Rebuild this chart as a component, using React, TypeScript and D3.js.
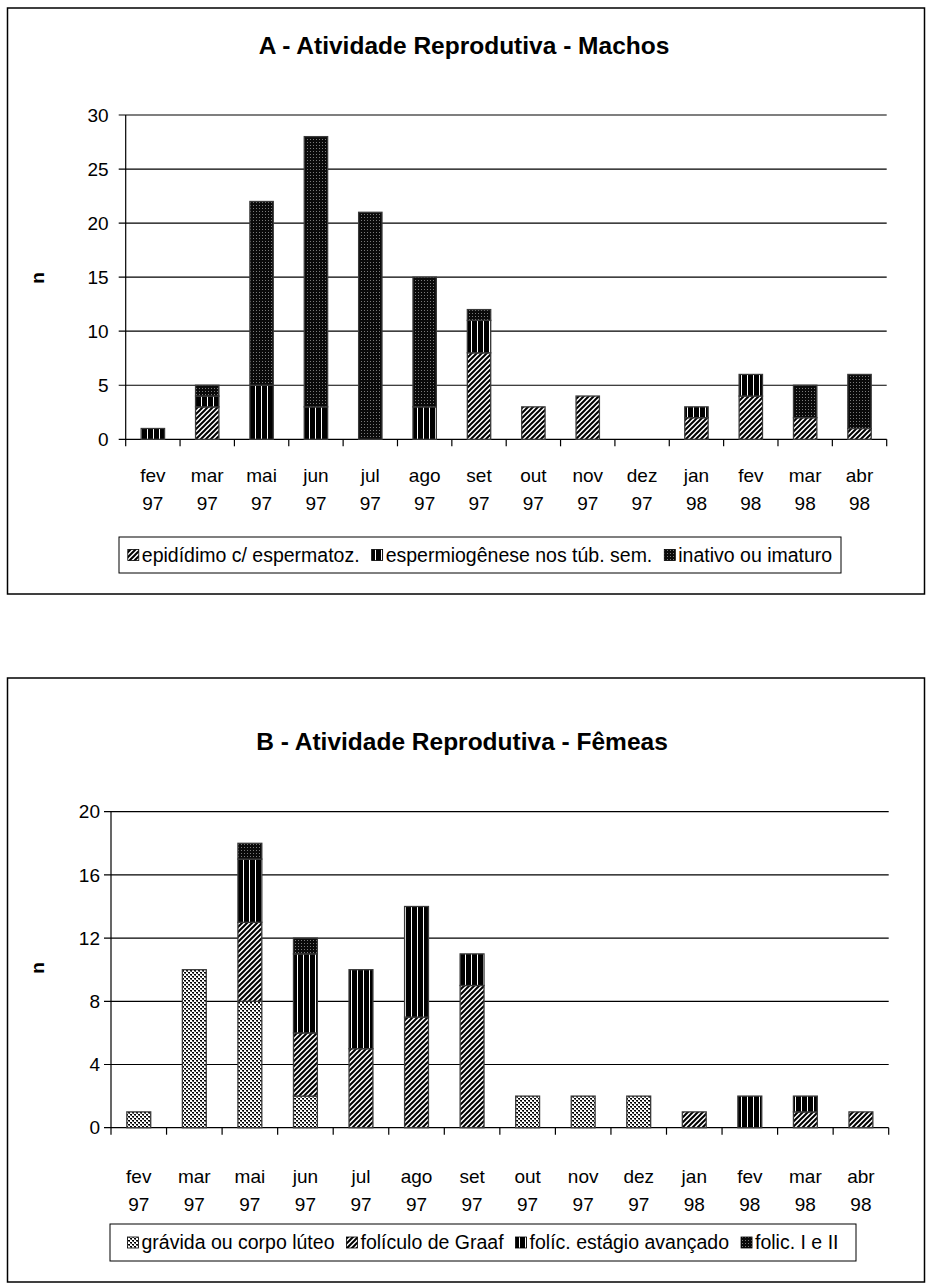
import React from "react";
import * as d3 from "d3";

const months = ["fev", "mar", "mai", "jun", "jul", "ago", "set", "out", "nov", "dez", "jan", "fev", "mar", "abr"];
const years = ["97", "97", "97", "97", "97", "97", "97", "97", "97", "97", "98", "98", "98", "98"];

// Chart A - Machos
const maleSeriesNames = ["epidídimo c/ espermatoz.", "espermiogênese nos túb. sem.", "inativo ou imaturo"];
const maleEpididimo = [0, 3, 0, 0, 0, 0, 8, 3, 4, 0, 2, 4, 2, 1];
const maleEspermiogenese = [1, 1, 5, 3, 0, 3, 3, 0, 0, 0, 1, 2, 0, 0];
const maleInativo = [0, 1, 17, 25, 21, 12, 1, 0, 0, 0, 0, 0, 3, 5];
const maleTicks = [0, 5, 10, 15, 20, 25, 30];

// Chart B - Fêmeas
const femaleSeriesNames = ["grávida ou corpo lúteo", "folículo de Graaf", "folíc. estágio avançado", "folic. I e II"];
const femaleGravida = [1, 10, 8, 2, 0, 0, 0, 2, 2, 2, 0, 0, 0, 0];
const femaleGraaf = [0, 0, 5, 4, 5, 7, 9, 0, 0, 0, 1, 0, 1, 1];
const femaleAvancado = [0, 0, 4, 5, 5, 7, 2, 0, 0, 0, 0, 2, 1, 0];
const femaleFolicI = [0, 0, 1, 1, 0, 0, 0, 0, 0, 0, 0, 0, 0, 0];
const femaleTicks = [0, 4, 8, 12, 16, 20];

const FONT = "'Liberation Sans Narrow', 'Arial Narrow', 'Liberation Sans', Arial, sans-serif";

function measure(text: string, size: number, bold = false) {
  if (typeof document === "undefined") return text.length * size * 0.45;
  const c = document.createElement("canvas").getContext("2d");
  if (!c) return text.length * size * 0.45;
  c.font = `${bold ? "bold " : ""}${size}px ${FONT}`;
  return c.measureText(text).width;
}

function Patterns() {
  return (
    <defs>
      <pattern id="hatch" patternUnits="userSpaceOnUse" width="5" height="5">
        <rect width="5" height="5" fill="#fff" />
        <path d="M-1,1 l2,-2 M0,5 l5,-5 M4,6 l2,-2" stroke="#000" strokeWidth="2" />
      </pattern>
      <pattern id="vlines" patternUnits="userSpaceOnUse" width="6" height="4">
        <rect width="6" height="4" fill="#000" />
        <rect x="3" width="1" height="4" fill="#fff" />
      </pattern>
      <pattern id="darkdots" patternUnits="userSpaceOnUse" width="3" height="3">
        <rect width="3" height="3" fill="#0a0a0a" />
        <rect x="1" y="1" width="1" height="1" fill="#7a7a7a" />
      </pattern>
      <pattern id="lightdots" patternUnits="userSpaceOnUse" width="4" height="4">
        <rect width="4" height="4" fill="#fff" />
        <rect x="0" y="0" width="2" height="1" fill="#000" />
        <rect x="2" y="2" width="2" height="1" fill="#000" />
        <rect x="1" y="1" width="1" height="1" fill="#444" />
        <rect x="3" y="3" width="1" height="1" fill="#444" />
        <rect x="0" y="1" width="1" height="1" fill="#888" />
        <rect x="2" y="3" width="1" height="1" fill="#888" />
      </pattern>
    </defs>
  );
}

type PanelProps = {
  frame: { x: number; y: number; w: number; h: number };
  title: string;
  titleY: number;
  titleX: number;
  axisX: number;
  rightX: number;
  y0: number;
  yTop: number;
  ticks: number[];
  seriesNames: string[];
  series: number[][];
  fills: string[];
  labelGap: number;
  nX: number;
  nY: number;
  monthY: number;
  yearY: number;
  legend: { x: number; y: number; w: number; h: number };
};

function Panel(p: PanelProps) {
  const fontSize = 19;
  const legendFont = 19.5;
  const x = d3.scaleBand<number>().domain(d3.range(months.length)).range([p.axisX, p.rightX]).paddingInner(0.57).paddingOuter(0.285);
  const xOuter = d3.scaleBand<number>().domain(d3.range(months.length)).range([p.axisX, p.rightX]);
  const yMax = p.ticks[p.ticks.length - 1];
  const y = d3.scaleLinear().domain([0, yMax]).range([p.y0, p.yTop]);
  const stackData = months.map((_, i) => {
    const o: Record<string, number> = { i };
    p.series.forEach((s, k) => (o["s" + k] = s[i]));
    return o;
  });
  const stack = d3.stack<Record<string, number>>().keys(p.series.map((_, k) => "s" + k))(stackData);

  // legend layout
  const sw = 11;
  const gapSwText = 3;
  const gapItems = 12;
  const widths = p.seriesNames.map((n) => measure(n, legendFont));
  const total = widths.reduce((a, b) => a + b, 0) + p.seriesNames.length * (sw + gapSwText) + (p.seriesNames.length - 1) * gapItems;
  let cx = p.legend.x + (p.legend.w - total) / 2;
  const items = p.seriesNames.map((n, k) => {
    const it = { n, x: cx, k };
    cx += sw + gapSwText + widths[k] + gapItems;
    return it;
  });
  const ly = p.legend.y + p.legend.h / 2;

  return (
    <g fontFamily={FONT}>
      <rect x={p.frame.x} y={p.frame.y} width={p.frame.w} height={p.frame.h} fill="#fff" stroke="#000" strokeWidth={1.5} />
      <text x={p.titleX} y={p.titleY} textAnchor="middle" fontWeight="bold" fontSize={24.5}>{p.title}</text>
      {/* gridlines */}
      {p.ticks.map((t) => (
        <g key={t}>
          <line x1={p.axisX - 7} x2={p.rightX} y1={y(t)} y2={y(t)} stroke="#000" strokeWidth={1.2} />
          <text x={p.axisX - p.labelGap} y={y(t)} dy="0.35em" textAnchor="end" fontSize={fontSize}>{t}</text>
        </g>
      ))}
      <line x1={p.axisX} x2={p.axisX} y1={p.yTop} y2={p.y0} stroke="#000" strokeWidth={1.2} />
      {/* x ticks */}
      {d3.range(months.length + 1).map((i) => {
        const xx = i < months.length ? (xOuter(i) as number) : p.rightX;
        return <line key={i} x1={xx} x2={xx} y1={p.y0} y2={p.y0 + 7} stroke="#000" strokeWidth={1.2} />;
      })}
      {months.map((m, i) => {
        const cxm = (xOuter(i) as number) + xOuter.bandwidth() / 2;
        return (
          <g key={i}>
            <text x={cxm} y={p.monthY} textAnchor="middle" dy="0.35em" fontSize={fontSize}>{m}</text>
            <text x={cxm} y={p.yearY} textAnchor="middle" dy="0.35em" fontSize={fontSize}>{years[i]}</text>
          </g>
        );
      })}
      {/* bars */}
      {stack.map((layer, k) => (
        <g key={k}>
          {layer.map((d, i) =>
            d[1] - d[0] > 0 ? (
              <rect key={i} x={x(i)} y={y(d[1])} width={x.bandwidth()} height={y(d[0]) - y(d[1])} fill={`url(#${p.fills[k]})`} stroke="#3a3a3a" strokeWidth={1.3} />
            ) : null
          )}
        </g>
      ))}
      <text transform={`translate(${p.nX},${p.nY}) rotate(-90)`} textAnchor="middle" dy="0.35em" fontWeight="bold" fontSize={fontSize}>n</text>
      {/* legend */}
      <rect x={p.legend.x} y={p.legend.y} width={p.legend.w} height={p.legend.h} fill="#fff" stroke="#000" strokeWidth={1} />
      {items.map((it) => (
        <g key={it.k}>
          <rect x={it.x} y={ly - sw / 2} width={sw} height={sw} fill={`url(#${p.fills[it.k]})`} stroke="#000" strokeWidth={0.8} />
          <text x={it.x + sw + gapSwText} y={ly} dy="0.35em" fontSize={legendFont}>{it.n}</text>
        </g>
      ))}
    </g>
  );
}

export default function App() {
  return (
    <svg width={926} height={1286} style={{ position: "absolute", left: 0, top: 0 }}>
      <rect width={926} height={1286} fill="#fff" />
      <Patterns />
      <Panel
        frame={{ x: 7.5, y: 8, w: 917, h: 586 }}
        title="A - Atividade Reprodutiva - Machos"
        titleX={464}
        titleY={54}
        axisX={125.7}
        rightX={886.7}
        y0={439.3}
        yTop={115}
        ticks={maleTicks}
        seriesNames={maleSeriesNames}
        series={[maleEpididimo, maleEspermiogenese, maleInativo]}
        fills={["hatch", "vlines", "darkdots"]}
        labelGap={17}
        nX={37}
        nY={278}
        monthY={475}
        yearY={503}
        legend={{ x: 119, y: 537, w: 722, h: 36 }}
      />
      <Panel
        frame={{ x: 7.5, y: 678, w: 917, h: 604 }}
        title="B - Atividade Reprodutiva - Fêmeas"
        titleX={462}
        titleY={750}
        axisX={111}
        rightX={888.7}
        y0={1127.7}
        yTop={811.7}
        ticks={femaleTicks}
        seriesNames={femaleSeriesNames}
        series={[femaleGravida, femaleGraaf, femaleAvancado, femaleFolicI]}
        fills={["lightdots", "hatch", "vlines", "darkdots"]}
        labelGap={11}
        nX={37}
        nY={968}
        monthY={1176}
        yearY={1204}
        legend={{ x: 110, y: 1224, w: 746, h: 37 }}
      />
    </svg>
  );
}
